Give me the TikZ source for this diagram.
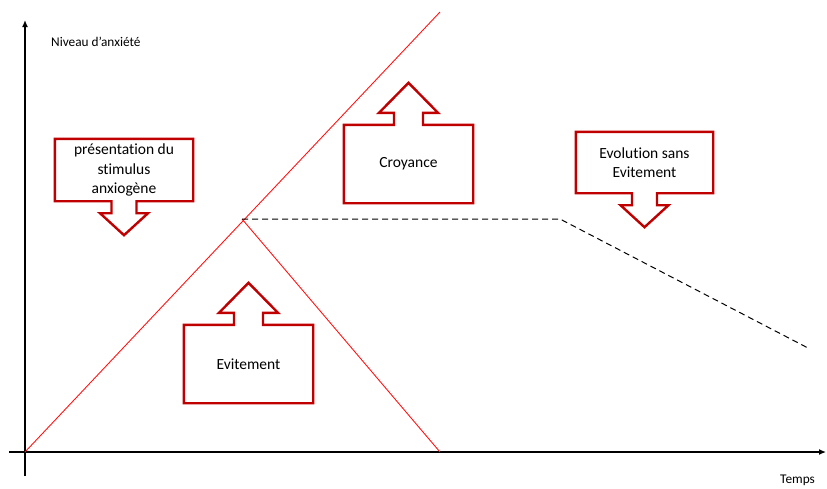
\documentclass[tikz,border=0pt]{standalone}
\usepackage{fontspec}
\setmainfont{Carlito}[Ligatures=NoCommon]
\usetikzlibrary{arrows.meta,positioning,calc}
\definecolor{boxred}{RGB}{192,0,0}
\definecolor{linered}{RGB}{255,20,20}

\begin{document}
\begin{tikzpicture}[
  x=1pt, y=-1pt,
  axis/.style={line width=1.3pt, -{Latex[length=7pt,width=6pt]}},
  curve/.style={draw=linered, line width=0.9pt},
  trend/.style={draw=black, line width=1pt, dash pattern=on 6pt off 4pt},
  callbox/.style={inner sep=0pt, align=center, font=\fontsize{15.5}{19.5}\selectfont},
  callline/.style={draw=boxred, line width=2.4pt, line join=miter},
  lbl/.style={inner sep=0pt, font=\fontsize{13.3}{15}\selectfont}
]
\useasboundingbox (0,0) rectangle (827,488);

% Axes
\coordinate (xstart) at (9,452);
\coordinate (xend) at (826,452);
\coordinate (ystart) at (25,476);
\coordinate (yend) at (25,20);
\draw[axis] (xstart) -- (xend);
\draw[axis] (ystart) -- (yend);
\node[lbl, anchor=west] (yname) at (51,42) {Niveau d’anxiété};
\node[lbl, anchor=west] (xname) at (780,480) {Temps};

% Anxiety curves
\coordinate (origin) at (25,452);
\coordinate (peak) at (242,219);
\coordinate (top) at (440,12);
\coordinate (fall) at (440,452);
\coordinate (knee) at (560,219);
\coordinate (tail) at (808,348);
\draw[curve] (origin) -- (top);
\draw[curve] (peak) -- (fall);
\draw[trend] (peak) -- (knee) -- (tail);

% Boxes with downward arrow
\node[callbox, minimum width=138, minimum height=62] (stimulus) at (124,170)
  {présentation du\\stimulus\\anxiogène};
\node[callbox, minimum width=137, minimum height=61] (evolution) at (644.5,162.5)
  {Evolution sans\\Evitement};
\foreach \b in {stimulus, evolution} {
  \draw[callline] (\b.north west) -- (\b.north east) -- (\b.south east)
    -- ($(\b.south)+(12.5,0)$) -- ++(0,12) -- ++(11.5,0)
    -- ($(\b.south)+(0,34)$)
    -- ($(\b.south)+(-24,12)$) -- ++(11.5,0) -- ++(0,-12)
    -- (\b.south west) -- cycle;
}

% Boxes with upward arrow
\node[callbox, minimum width=129, minimum height=78] (croyance) at (408.5,164) {Croyance};
\node[callbox, minimum width=129, minimum height=78] (evitement) at (248.5,364) {Evitement};
\foreach \b in {croyance, evitement} {
  \draw[callline] (\b.south west) -- (\b.north west)
    -- ($(\b.north)+(-14.5,0)$) -- ++(0,-12) -- ++(-15,0)
    -- ($(\b.north)+(0,-42)$)
    -- ($(\b.north)+(29.5,-12)$) -- ++(-15,0) -- ++(0,12)
    -- (\b.north east) -- (\b.south east) -- cycle;
}

\end{tikzpicture}
\end{document}
